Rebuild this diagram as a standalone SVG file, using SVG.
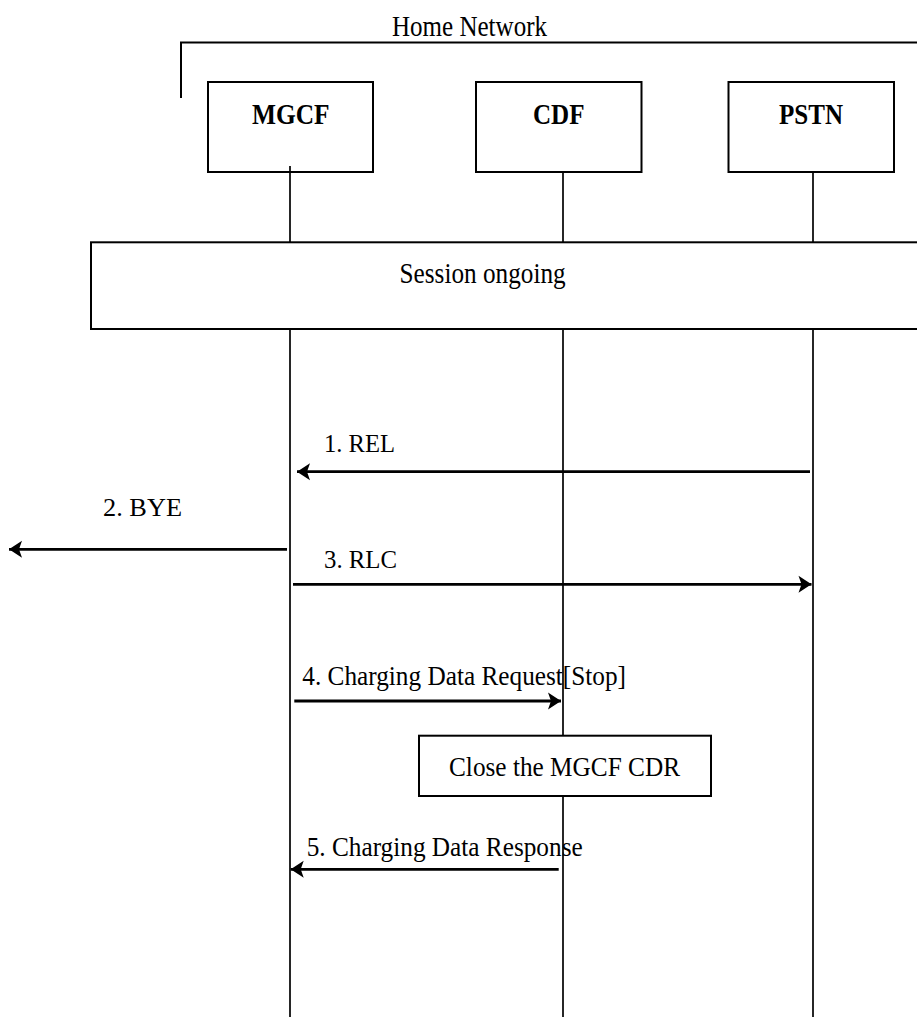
<svg xmlns="http://www.w3.org/2000/svg" width="917" height="1017" viewBox="0 0 917 1017">
<style>
text{font-family:"Liberation Serif","Times New Roman",serif;fill:#000}
.b{font-weight:bold}
.box{fill:#fff;stroke:#000;stroke-width:2}
.life{stroke:#000;stroke-width:1.7;fill:none}
.msg{stroke:#000;stroke-width:2.8;fill:none;marker-end:url(#ah)}
</style>
<defs>
<marker id="ah" markerUnits="userSpaceOnUse" markerWidth="16" markerHeight="20" viewBox="-14 -10 16 20" refX="0" refY="0" orient="auto">
<path d="M0,0 L-13,-8.5 L-10,0 L-13,8.5 Z" fill="#000"/>
</marker>
</defs>
<rect width="917" height="1017" fill="#fff"/>
<g id="home-network">
<path d="M181,98 V42.5 H920" fill="none" stroke="#000" stroke-width="2"/>
<text x="392" y="36" font-size="30" textLength="155" lengthAdjust="spacingAndGlyphs">Home Network</text>
</g>
<g id="lifelines">
<line class="life" x1="290" y1="166" x2="290" y2="1017"/>
<line class="life" x1="563" y1="172" x2="563" y2="1017"/>
<line class="life" x1="813" y1="172" x2="813" y2="1017"/>
</g>
<g id="MGCF">
<rect class="box" x="208" y="82" width="165" height="90" fill="none" style="fill:none"/>
<text class="b" x="252" y="124" font-size="30" textLength="77.6" lengthAdjust="spacingAndGlyphs">MGCF</text>
</g>
<g id="CDF">
<rect class="box" x="476" y="82" width="165.5" height="90"/>
<text class="b" x="533" y="124" font-size="30" textLength="51.5" lengthAdjust="spacingAndGlyphs">CDF</text>
</g>
<g id="PSTN">
<rect class="box" x="728.5" y="82" width="165.5" height="90"/>
<text class="b" x="779" y="124" font-size="30" textLength="64" lengthAdjust="spacingAndGlyphs">PSTN</text>
</g>
<g id="session-ongoing">
<rect class="box" x="91" y="242.3" width="830" height="86.7"/>
<text x="399.6" y="282.7" font-size="29" textLength="166" lengthAdjust="spacingAndGlyphs">Session ongoing</text>
</g>
<g id="connectors">
<line class="msg" x1="810" y1="471.7" x2="297" y2="471.7"/>
<text x="324" y="452" font-size="26" textLength="71" lengthAdjust="spacingAndGlyphs">1. REL</text>
<line class="msg" x1="287" y1="549.3" x2="9" y2="549.3"/>
<text x="103" y="516" font-size="26" textLength="79" lengthAdjust="spacingAndGlyphs">2. BYE</text>
<line class="msg" x1="293" y1="584.3" x2="811.5" y2="584.3"/>
<text x="324" y="567.7" font-size="26" textLength="73" lengthAdjust="spacingAndGlyphs">3. RLC</text>
<line class="msg" x1="294.3" y1="701" x2="561" y2="701"/>
<text x="302.3" y="685" font-size="27" textLength="323.7" lengthAdjust="spacingAndGlyphs">4. Charging Data Request[Stop]</text>
<line class="msg" x1="558.7" y1="869.3" x2="290.7" y2="869.3"/>
<text x="306.7" y="855.7" font-size="27" textLength="276" lengthAdjust="spacingAndGlyphs">5. Charging Data Response</text>
</g>
<g id="close-cdr">
<rect class="box" x="419" y="735.7" width="292" height="60.3"/>
<text x="449" y="775.7" font-size="28" textLength="231" lengthAdjust="spacingAndGlyphs">Close the MGCF CDR</text>
</g>
</svg>
